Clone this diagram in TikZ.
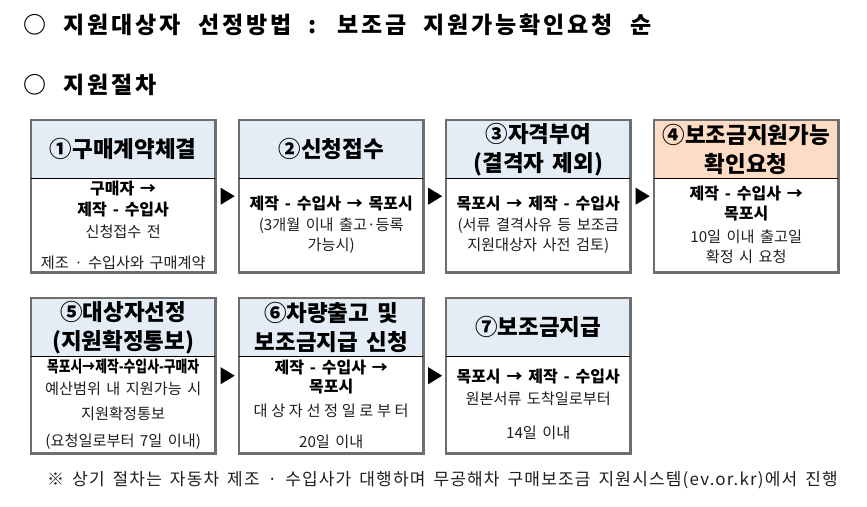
\documentclass[tikz,border=0pt]{standalone}
\usepackage{fontspec}
\usepackage{graphicx}
\setmainfont{Noto Sans CJK KR}[WordSpace=1.6]
\newfontfamily\spacedfont{Noto Sans CJK KR}[WordSpace=2,LetterSpace=24]
\newfontfamily\titlefont{Noto Sans CJK KR}[WordSpace=2.2,LetterSpace=12]
\newfontfamily\notefont{Noto Sans CJK KR}[WordSpace=1.6,LetterSpace=7]
\usetikzlibrary{fit,calc}
\definecolor{hdrblue}{HTML}{E4ECF6}
\definecolor{hdrpeach}{HTML}{FCDCC4}
\definecolor{framegray}{HTML}{6E6E6E}
\definecolor{bodytext}{HTML}{1E1E1E}
\newcommand\boldline[1]{{\fontsize{16}{21}\selectfont\bfseries\color{black}#1}}
\begin{document}
\begin{tikzpicture}[x=1pt,y=-1pt,
  hdr/.style={fill=hdrblue, minimum width=184pt, minimum height=58pt, inner sep=0pt, anchor=north west, align=center, font=\fontsize{22.5}{29}\selectfont\bfseries},
  bodybox/.style={minimum width=184pt, minimum height=#1, inner sep=0pt, anchor=north west},
  boxframe/.style={draw=framegray, line width=2.2pt, inner sep=0pt, fit=#1},
  divider/.style={draw=black, line width=0.9pt},
  bodytxt/.style={align=center, inner sep=0pt, text=bodytext, font=\fontsize{15.2}{21}\selectfont},
  tri/.style={fill=black}
]
\useasboundingbox (0,0) rectangle (867,506);

% titles
\node[anchor=west, inner sep=0pt, font=\titlefont\fontsize{23}{26}\selectfont\bfseries] (title1) at (23,25) {○ 지원대상자 선정방법 : 보조금 지원가능확인요청 순};
\node[anchor=west, inner sep=0pt, font=\titlefont\fontsize{23}{26}\selectfont\bfseries] (title2) at (23,85) {○ 지원절차};

% row 1
\node[hdr] (h1) at (31,120) {①구매계약체결};
\node[bodybox=94pt] (d1) at (31,178) {};
\node[hdr] (h2) at (239,120) {②신청접수};
\node[bodybox=94pt] (d2) at (239,178) {};
\node[hdr] (h3) at (446,120) {③자격부여\\(결격자 제외)};
\node[bodybox=94pt] (d3) at (446,178) {};
\node[hdr, fill=hdrpeach] (h4) at (654,120) {④보조금지원가능\\확인요청};
\node[bodybox=94pt] (d4) at (654,178) {};

% row 2
\node[hdr] (h5) at (31,298) {⑤대상자선정\\(지원확정통보)};
\node[bodybox=97pt] (d5) at (31,356) {};
\node[hdr] (h6) at (239,298) {⑥차량출고 및\\보조금지급 신청};
\node[bodybox=97pt] (d6) at (239,356) {};
\node[hdr] (h7) at (446,298) {⑦보조금지급};
\node[bodybox=97pt] (d7) at (446,356) {};

% frames and dividers
\foreach \i in {1,...,7}{
  \node[boxframe=(h\i)(d\i)] (b\i) {};
  \draw[divider] (h\i.south west) -- (h\i.south east);
}

% body texts
\node[bodytxt] (t1) at (d1.center) {\boldline{구매자 →}\\\boldline{제작 - 수입사}\\[1pt]신청접수 전\\[10pt]제조 · 수입사와 구매계약};
\node[bodytxt] (t2) at (d2.center) {\boldline{제작 - 수입사 → 목포시}\\(3개월 이내 출고·등록\\[-1pt]가능시)};
\node[bodytxt] (t3) at (d3.center) {\boldline{목포시 → 제작 - 수입사}\\(서류 결격사유 등 보조금\\[-1pt]지원대상자 사전 검토)};
\node[bodytxt] (t4) at (d4.center) {\boldline{제작 - 수입사 →}\\[-1pt]\boldline{목포시}\\[2pt]10일 이내 출고일\\[-1pt]확정 시 요청};
\node[bodytxt] (t5) at (d5.center) {\boldline{\scalebox{0.8}[1]{목포시→제작-수입사-구매자}}\\[1pt]예산범위 내 지원가능 시\\[4pt]지원확정통보\\[6pt](요청일로부터 7일 이내)};
\node[bodytxt] (t6) at (d6.center) {\boldline{제작 - 수입사 →}\\[-2pt]\boldline{목포시}\\[3pt]{\spacedfont 대상자선정일로부터}\\[10pt]20일 이내};
\node[bodytxt] (t7) at (d7.center) {\boldline{목포시 → 제작 - 수입사}\\[1pt]원본서류 도착일로부터\\[13pt]14일 이내};

% arrows between boxes
\foreach \a/\b in {1/2,2/3,3/4,5/6,6/7}{
  \coordinate (m\a) at ($(b\a.east)!0.5!(b\b.west)$);
  \fill[tri] (m\a) +(-6.5,-8.5) -- +(7.5,0) -- +(-6.5,8.5) -- cycle;
}

% footnote
\node[anchor=west, inner sep=0pt, text=bodytext, font=\notefont\fontsize{17}{20}\selectfont] (note) at (47,480) {※ 상기 절차는 자동차 제조 · 수입사가 대행하며 무공해차 구매보조금 지원시스템(ev.or.kr)에서 진행};
\end{tikzpicture}
\end{document}
